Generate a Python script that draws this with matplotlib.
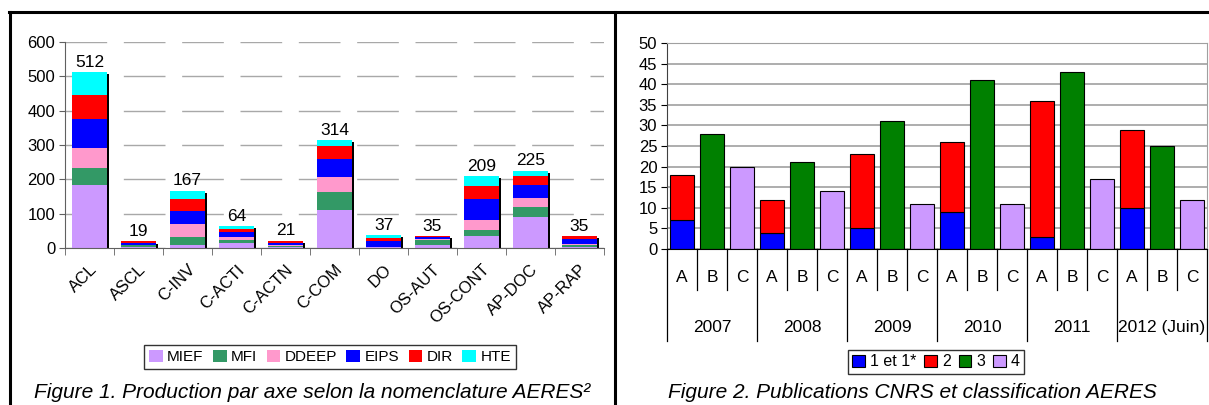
import numpy as np
import matplotlib.pyplot as plt
from matplotlib.patches import Patch
from matplotlib.lines import Line2D

plt.rcParams['font.family'] = ['Liberation Sans', 'DejaVu Sans']

# ---- Figure 1 data: production by axis (AERES nomenclature) ----
axes_cats = ['ACL', 'ASCL', 'C-INV', 'C-ACTI', 'C-ACTN', 'C-COM', 'DO',
             'OS-AUT', 'OS-CONT', 'AP-DOC', 'AP-RAP']
mief = [184, 3, 10, 16, 3, 110, 2, 10, 34, 90, 3]
mfi = [49, 5, 22, 6, 2, 54, 1, 12, 19, 29, 6]
ddeep = [58, 2, 39, 10, 3, 42, 1, 4, 28, 26, 4]
eips = [85, 4, 37, 16, 7, 53, 17, 6, 62, 38, 14]
dir_ = [71, 5, 35, 6, 6, 37, 9, 3, 37, 26, 7]
hte = [65, 0, 24, 10, 0, 18, 7, 0, 29, 16, 1]
labels1 = [512, 19, 167, 64, 21, 314, 37, 35, 209, 225, 35]
series1 = ['MIEF', 'MFI', 'DDEEP', 'EIPS', 'DIR', 'HTE']
colors1 = ['#CC99FF', '#339966', '#FF99CC', '#0000FF', '#FF0000', '#00FFFF']

# ---- Figure 2 data: CNRS publications and AERES classification ----
years = ['2007', '2008', '2009', '2010', '2011', '2012 (Juin)']
sub_cats = ['A', 'B', 'C']
cls_1 = [7, 4, 5, 9, 3, 10]        # A, bottom
cls_2 = [11, 8, 18, 17, 33, 19]    # A, top
cls_3 = [28, 21, 31, 41, 43, 25]   # B
cls_4 = [20, 14, 11, 11, 17, 12]   # C
series2 = ['1 et 1*', '2', '3', '4']
colors2 = ['#0000FF', '#FF0000', '#008000', '#CC99FF']

W, H = 1209, 405
fig = plt.figure(figsize=(W / 100, H / 100), dpi=100)


def fx(px):
    return px / W


def fy(py):
    return 1 - py / H


# panel borders (table look)
for (x0, y0, x1, y1) in [(9, 12, 1209, 12), (10, 12, 10, 405), (615, 12, 615, 405)]:
    fig.add_artist(Line2D([fx(x0), fx(x1)], [fy(y0), fy(y1)], color='black', lw=2.2))

# ================= Figure 1 =================
ax1 = fig.add_axes([fx(65), fy(248), fx(539), 206 / H])
x = np.arange(len(axes_cats))
stack = np.array([mief, mfi, ddeep, eips, dir_, hte], dtype=float)
totals = stack.sum(axis=0)

# black shadow on the right of each bar
ax1.bar(x + 0.05, totals - 6, width=0.7, color='black', zorder=1)
bottom = np.zeros(len(x))
for name, vals, c in zip(series1, stack, colors1):
    ax1.bar(x, vals, width=0.7, bottom=bottom, color=c, zorder=2, label=name)
    bottom += vals

for xi, t, lab in zip(x, totals, labels1):
    ax1.text(xi, t + 7, str(lab), ha='center', va='bottom', fontsize=12.5)

ax1.set_xlim(-0.5, len(x) - 0.5)
ax1.set_ylim(0, 600)
ax1.set_yticks(np.arange(0, 601, 100))
ax1.yaxis.grid(True, color='#a8a8a8', lw=1, linestyle=(0, (30, 12)))
ax1.set_axisbelow(True)
ax1.set_xticks(x)
ax1.set_xticklabels(axes_cats, rotation=45, ha='right', rotation_mode='anchor', fontsize=12)
ax1.set_xticks(np.arange(-0.5, len(x), 1), minor=True)
ax1.tick_params(axis='x', which='major', length=0, pad=10)
ax1.tick_params(axis='x', which='minor', length=5, color='#606060')
ax1.tick_params(axis='y', length=4, color='#606060', labelsize=12, pad=3)
for s in ['top', 'right']:
    ax1.spines[s].set_visible(False)
for s in ['left', 'bottom']:
    ax1.spines[s].set_color('#606060')

h1 = [Patch(facecolor=c, edgecolor='none') for c in colors1]
fig.legend(h1, series1, loc='center', bbox_to_anchor=(fx(330), fy(357)), ncol=6,
           fontsize=11, frameon=True, fancybox=False, edgecolor='black',
           handlelength=0.9, handleheight=0.9, handletextpad=0.3, columnspacing=0.6,
           borderpad=0.3, borderaxespad=0)

fig.text(fx(312), fy(393), 'Figure 1. Production par axe selon la nomenclature AERES²',
         ha='center', va='center', fontsize=15, style='italic')

# ================= Figure 2 =================
ax2 = fig.add_axes([fx(667), fy(249), fx(540), 206 / H])
n = len(years)
pos_a = np.arange(n) * 3
pos_b = pos_a + 1
pos_c = pos_a + 2
bw = 0.8
ek = dict(edgecolor='black', linewidth=0.8, zorder=2)
ax2.bar(pos_a, cls_1, width=bw, color=colors2[0], label=series2[0], **ek)
ax2.bar(pos_a, cls_2, width=bw, bottom=cls_1, color=colors2[1], label=series2[1], **ek)
ax2.bar(pos_b, cls_3, width=bw, color=colors2[2], label=series2[2], **ek)
ax2.bar(pos_c, cls_4, width=bw, color=colors2[3], label=series2[3], **ek)

ax2.set_xlim(-0.5, 3 * n - 0.5)
ax2.set_ylim(0, 50)
ax2.set_yticks(np.arange(0, 51, 5))
ax2.yaxis.grid(True, color='#a0a0a0', lw=1.2)
ax2.set_axisbelow(True)
ax2.set_xticks([])
ax2.tick_params(axis='y', length=4, labelsize=12, pad=3)
ax2.spines['top'].set_color('#a0a0a0')
ax2.spines['right'].set_color('#a0a0a0')
ax2.spines['bottom'].set_color('black')
ax2.spines['left'].set_color('#404040')

# multi-level category axis
tr = ax2.get_xaxis_transform()
for i in range(3 * n + 1):
    depth = -0.445 if i % 3 == 0 else -0.2
    ax2.plot([i - 0.5, i - 0.5], [0, depth], color='black', lw=0.9,
             transform=tr, clip_on=False)
for g in range(n):
    for k, lab in enumerate(sub_cats):
        ax2.text(3 * g + k, -0.14, lab, transform=tr, ha='center', va='center', fontsize=12.5)
    ax2.text(3 * g + 1, -0.38, years[g], transform=tr, ha='center', va='center', fontsize=12.5)

h2 = [Patch(facecolor=c, edgecolor='black', linewidth=0.8) for c in colors2]
fig.legend(h2, series2, loc='center', bbox_to_anchor=(fx(936), fy(362)), ncol=4,
           fontsize=11.5, frameon=True, fancybox=False, edgecolor='black',
           handlelength=0.8, handleheight=0.8, handletextpad=0.3, columnspacing=0.5,
           borderpad=0.3, borderaxespad=0)

fig.text(fx(912), fy(392), 'Figure 2. Publications CNRS et classification AERES',
         ha='center', va='center', fontsize=15, style='italic')

fig.savefig('out.png', dpi=100)
